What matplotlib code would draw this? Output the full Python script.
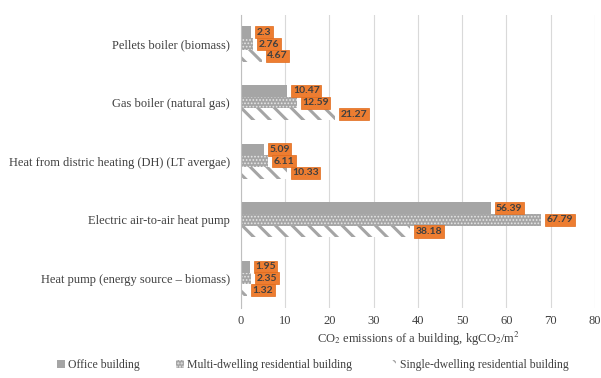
import numpy as np
import matplotlib
matplotlib.use('Agg')
from matplotlib import pyplot as plt

plt.rcParams['font.family'] = 'Liberation Serif'
plt.rcParams['mathtext.fontset'] = 'stix'

categories = ['Heat pump (energy source \u2013 biomass)',
              'Electric air-to-air heat pump',
              'Heat from distric heating (DH) (LT avergae)',
              'Gas boiler (natural gas)',
              'Pellets boiler (biomass)']
office = [1.95, 56.39, 5.09, 10.47, 2.3]
multi = [2.35, 67.79, 6.11, 12.59, 2.76]
single = [1.32, 38.18, 10.33, 21.27, 4.67]
series_names = ['Office building', 'Multi-dwelling residential building',
                'Single-dwelling residential building']

fig = plt.figure(figsize=(6.01, 3.78), dpi=100)
ax = fig.add_axes([0.401, 0.186, 0.589, 0.775])

y = np.arange(len(categories))
h = 0.2
txt = '#404040'

b1 = ax.barh(y + h, office, h, color='#A5A5A5', linewidth=0, label=series_names[0])
with plt.rc_context({'hatch.linewidth': 0.8}):
    b2 = ax.barh(y, multi, h, color='#A5A5A5', edgecolor='#E6E6E6', hatch='.....',
                 linewidth=0, label=series_names[1])
with plt.rc_context({'hatch.linewidth': 2.2}):
    b3 = ax.barh(y - h, single, h, color='white', edgecolor='#A5A5A5', hatch='\\\\',
                 linewidth=0, label=series_names[2])

for bars, vals in [(b1, office), (b2, multi), (b3, single)]:
    for bar, v in zip(bars, vals):
        ax.annotate(f'{v:g}', (v, bar.get_y() + bar.get_height() / 2),
                    xytext=(4, 0), textcoords='offset points',
                    ha='left', va='center', fontsize=7.5, fontweight='bold',
                    family='Lato', color=txt,
                    bbox=dict(boxstyle='square,pad=0.15', fc='#ED7D31',
                              ec='#E06A1B', lw=0.5))

ax.set_xlim(0, 80)
ax.set_ylim(-0.5, len(categories) - 0.5)
ax.set_xticks(range(0, 81, 10))
ax.set_yticks(y)
ax.set_yticklabels(categories)
ax.tick_params(length=0, labelsize=9, labelcolor=txt, pad=8)
ax.tick_params(axis='x', pad=5)
ax.xaxis.grid(True, color='#D9D9D9', lw=0.8)
ax.set_axisbelow(True)
for s in ['top', 'right', 'bottom']:
    ax.spines[s].set_visible(False)
ax.spines['left'].set_color('#BFBFBF')
ax.set_xlabel('CO$_2$ emissions of a building, kgCO$_2$/m$^2$', fontsize=9,
              color=txt, labelpad=2)

fig.legend(handles=[b1, b2, b3], loc='lower center', bbox_to_anchor=(0.52, -0.01),
           ncol=3, frameon=False, fontsize=8.5, labelcolor=txt,
           handlelength=0.7, handleheight=0.7, handletextpad=0.3, columnspacing=3.0)

fig.savefig('out.png', dpi=100)
